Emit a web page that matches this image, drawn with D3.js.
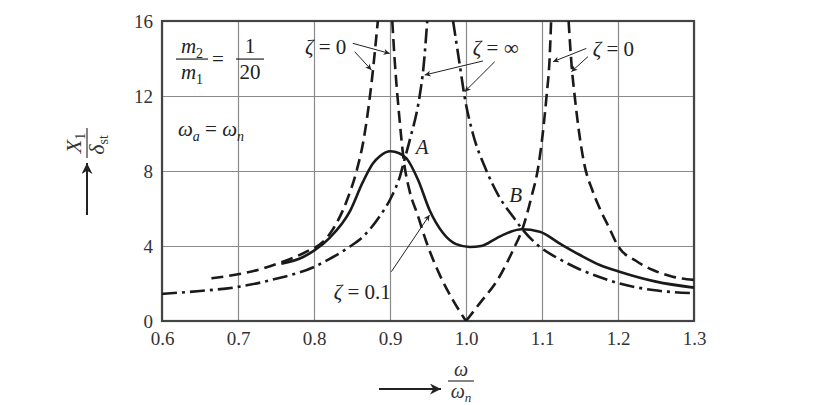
<!DOCTYPE html>
<meta charset="utf-8">
<html>
<head>
<style>
  body { margin: 0; background: #fff; }
  svg { font-family: "Liberation Serif", "DejaVu Serif", serif; }
  .grid line { stroke: #8a8a8a; stroke-width: 1.2; }
  .grid .domain { display: none; }
  .grid text { font-size: 19px; fill: #333; font-family: "Liberation Serif", "DejaVu Serif", serif; }
</style>
<script src="https://d3js.org/d3.v7.min.js"></script>
</head>
<body>
<svg width="826" height="405"></svg>
<script>

// tick values
var xTicks = [0.6, 0.7, 0.8, 0.9, 1.0, 1.1, 1.2, 1.3];
var yTicks = [0, 4, 8, 12, 16];

// zeta = 0 (dashed), one array per branch
var zeta0_a = [[0.665,2.28],[0.7,2.49],[0.729,2.76],[0.759,3.16],[0.79,3.7],[0.812,4.23],
               [0.825,4.9],[0.843,6.4],[0.856,8.0],[0.865,9.6],[0.876,12.8],[0.884,16]];
var zeta0_b = [[0.903,16],[0.906,14],[0.912,11],[0.918,8.6],[0.926,6.9],[0.936,5.7],
               [0.948,4.2],[0.965,2.5],[0.983,1.1],[1.0,0]];
var zeta0_c = [[1.0,0],[1.018,0.94],[1.044,2.36],[1.062,3.79],[1.075,5.0],[1.086,6.6],
               [1.095,8.2],[1.101,10],[1.106,12],[1.110,14],[1.112,16]];
var zeta0_d = [[1.135,16],[1.139,13.6],[1.143,12],[1.149,10],[1.156,8.3],[1.166,7.0],
               [1.176,6.0],[1.188,5.0],[1.2,4.0],[1.224,3.2],[1.246,2.72],[1.272,2.36],[1.3,2.19]];

// zeta = infinity (dash-dot)
var zetaInf_a = [[0.6,1.45],[0.65,1.6],[0.7,1.82],[0.75,2.25],[0.8,2.88],[0.82,3.3],
                 [0.847,3.96],[0.8645,4.5],[0.886,5.56],[0.902,6.63],[0.913,7.7],[0.919,8.6],
                 [0.926,9.65],[0.939,12],[0.944,13.5],[0.949,16]];
var zetaInf_b = [[0.983,16],[0.992,13.6],[0.998,12],[1.009,10],[1.025,8.2],[1.044,6.6],
                 [1.062,5.56],[1.075,4.85],[1.097,3.96],[1.123,3.3],[1.15,2.75],[1.172,2.4],
                 [1.202,2.0],[1.246,1.65],[1.3,1.48]];

// zeta = 0.1 (solid)
var zeta01 = [[0.757,3.05],[0.785,3.4],[0.8,3.75],[0.821,4.45],[0.847,5.83],[0.8645,7.43],
              [0.8777,8.41],[0.887,8.8],[0.9005,9.05],[0.912,8.95],[0.9216,8.68],[0.937,7.52],[0.952,5.92],
              [0.97,4.68],[0.987,4.1],[1.005,3.95],[1.02,4.0],[1.04,4.41],[1.058,4.75],
              [1.073,4.89],[1.097,4.76],[1.123,4.14],[1.15,3.52],[1.176,2.99],[1.202,2.63],
              [1.25,2.1],[1.3,1.78]];

var svg = d3.select("svg"),
    margin = {top: 21, right: 132, bottom: 84, left: 162},
    width = 826 - margin.left - margin.right,
    height = 405 - margin.top - margin.bottom;

var x = d3.scaleLinear().domain([0.6, 1.3]).range([margin.left, margin.left + width]);
var y = d3.scaleLinear().domain([0, 16]).range([margin.top + height, margin.top]);

var defs = svg.append("defs");
defs.append("clipPath").attr("id", "clip")
  .append("rect")
    .attr("x", margin.left).attr("y", margin.top)
    .attr("width", width).attr("height", height);

function marker(id, w, h) {
  defs.append("marker")
      .attr("id", id)
      .attr("viewBox", "0 0 10 10")
      .attr("refX", 10).attr("refY", 5)
      .attr("markerUnits", "userSpaceOnUse")
      .attr("markerWidth", w).attr("markerHeight", h)
      .attr("orient", "auto")
    .append("path")
      .attr("d", "M0,0 L10,5 L0,10 L3,5 Z")
      .attr("fill", "#222");
}
marker("head", 9, 6);
marker("bighead", 16, 11);

// grid + tick labels
svg.append("g")
    .attr("class", "grid")
    .attr("transform", "translate(0," + (margin.top + height) + ")")
    .call(d3.axisBottom(x).tickValues(xTicks).tickFormat(d3.format(".1f"))
      .tickSizeInner(-height).tickSizeOuter(0).tickPadding(11));

svg.append("g")
    .attr("class", "grid")
    .attr("transform", "translate(" + margin.left + ",0)")
    .call(d3.axisLeft(y).tickValues(yTicks)
      .tickSizeInner(-width).tickSizeOuter(0).tickPadding(9));

// frame
svg.append("rect")
    .attr("x", margin.left).attr("y", margin.top)
    .attr("width", width).attr("height", height)
    .attr("fill", "none")
    .attr("stroke", "#444")
    .attr("stroke-width", 2.2);

var line = d3.line()
    .x(function(d) { return x(d[0]); })
    .y(function(d) { return y(d[1]); })
    .curve(d3.curveMonotoneX);

var curves = svg.append("g").attr("clip-path", "url(#clip)")
    .attr("fill", "none")
    .attr("stroke", "#1a1a1a")
    .attr("stroke-width", 2.6);

[zeta0_a, zeta0_b, zeta0_c, zeta0_d].forEach(function(s) {
  curves.append("path").attr("d", line(s)).attr("stroke-dasharray", "12,6");
});
[zetaInf_a, zetaInf_b].forEach(function(s) {
  curves.append("path").attr("d", line(s)).attr("stroke-dasharray", "15,5,3,5");
});
curves.append("path").attr("d", line(zeta01));

// annotation arrows (in data units)
var arrows = [
  [[0.851,14.81],[0.8996,14.27]],
  [[0.8536,14.36],[0.8755,13.39]],
  [[1.0224,13.87],[0.9457,13.12]],
  [[1.0378,13.83],[0.9983,12.23]],
  [[1.1584,14.54],[1.1145,13.83]],
  [[1.1605,14.1],[1.1387,13.3]],
  [[0.9018,2.63],[0.952,5.65]]
];
svg.append("g").selectAll("line").data(arrows).enter().append("line")
    .attr("x1", function(d) { return x(d[0][0]); })
    .attr("y1", function(d) { return y(d[0][1]); })
    .attr("x2", function(d) { return x(d[1][0]); })
    .attr("y2", function(d) { return y(d[1][1]); })
    .attr("stroke", "#222")
    .attr("stroke-width", 1)
    .attr("marker-end", "url(#head)");

// zeta labels
function zetaLabel(px, py, rest) {
  var t = svg.append("text")
      .attr("x", x(px)).attr("y", y(py))
      .attr("font-size", 21).attr("fill", "#222");
  t.append("tspan").attr("font-style", "italic").text("ζ");
  t.append("tspan").text(" = " + rest);
}
zetaLabel(0.788, 14.25, "0");
zetaLabel(1.009, 14.2, "∞");
zetaLabel(1.1667, 14.15, "0");
zetaLabel(0.826, 1.15, "0.1");

svg.append("text").attr("x", x(0.934)).attr("y", y(8.9))
    .attr("font-size", 21).attr("font-style", "italic").attr("fill", "#222").text("A");
svg.append("text").attr("x", x(1.057)).attr("y", y(6.35))
    .attr("font-size", 21).attr("font-style", "italic").attr("fill", "#222").text("B");

// m2/m1 = 1/20
var frac = svg.append("g").attr("fill", "#222").attr("font-size", 21);
function fracPart(cx, cy, txt, sub) {
  var t = frac.append("text").attr("x", cx).attr("y", cy).attr("text-anchor", "middle");
  t.append("tspan").attr("font-style", sub ? "italic" : null).text(txt);
  if (sub) t.append("tspan").attr("font-size", 14).attr("dy", 5).text(sub);
}
var bx = x(0.6) + 14, by = y(13.97);
fracPart(bx + 16, by - 6, "m", "2");
fracPart(bx + 16, by + 20, "m", "1");
frac.append("line").attr("x1", bx).attr("x2", bx + 32).attr("y1", by).attr("y2", by)
    .attr("stroke", "#222").attr("stroke-width", 1.2);
frac.append("text").attr("x", bx + 42).attr("y", by + 7).attr("text-anchor", "middle").text("=");
fracPart(bx + 74, by - 6, "1");
fracPart(bx + 74, by + 20, "20");
frac.append("line").attr("x1", bx + 60).attr("x2", bx + 88).attr("y1", by).attr("y2", by)
    .attr("stroke", "#222").attr("stroke-width", 1.2);

// omega_a = omega_n
var om = svg.append("text").attr("x", x(0.621)).attr("y", y(9.85))
    .attr("font-size", 21).attr("fill", "#222");
om.append("tspan").attr("font-style", "italic").text("ω");
om.append("tspan").attr("font-size", 14).attr("font-style", "italic").attr("dy", 5).text("a");
om.append("tspan").attr("dy", -5).text(" = ");
om.append("tspan").attr("font-style", "italic").text("ω");
om.append("tspan").attr("font-size", 14).attr("font-style", "italic").attr("dy", 5).text("n");

// y axis label: X1 / delta_st, rotated, with upward arrow
var yl = svg.append("g").attr("transform", "translate(87,143) rotate(-90)")
    .attr("fill", "#333").attr("font-size", 22);
var t1 = yl.append("text").attr("x", 0).attr("y", -6).attr("text-anchor", "middle");
t1.append("tspan").attr("font-style", "italic").text("X");
t1.append("tspan").attr("font-size", 14).attr("dy", 4).text("1");
yl.append("line").attr("x1", -15).attr("x2", 15).attr("y1", 0).attr("y2", 0)
    .attr("stroke", "#333").attr("stroke-width", 1.2);
var t2 = yl.append("text").attr("x", -2).attr("y", 17).attr("text-anchor", "middle");
t2.append("tspan").attr("font-style", "italic").text("δ");
t2.append("tspan").attr("font-size", 14).attr("dy", 4).text("st");
svg.append("line").attr("x1", 87).attr("x2", 87).attr("y1", 215).attr("y2", 163)
    .attr("stroke", "#222").attr("stroke-width", 2).attr("marker-end", "url(#bighead)");

// x axis label: arrow + omega / omega_n
svg.append("line").attr("x1", 379).attr("x2", 441).attr("y1", 389).attr("y2", 389)
    .attr("stroke", "#222").attr("stroke-width", 2).attr("marker-end", "url(#bighead)");
var xl = svg.append("g").attr("fill", "#333").attr("font-size", 20);
xl.append("text").attr("x", 461).attr("y", 376).attr("text-anchor", "middle")
    .attr("font-style", "italic").text("ω");
xl.append("line").attr("x1", 448).attr("x2", 474).attr("y1", 381).attr("y2", 381)
    .attr("stroke", "#333").attr("stroke-width", 1.2);
var xt = xl.append("text").attr("x", 461).attr("y", 398).attr("text-anchor", "middle");
xt.append("tspan").attr("font-style", "italic").text("ω");
xt.append("tspan").attr("font-style", "italic").attr("font-size", 13).attr("dy", 4).text("n");

</script>
</body>
</html>
